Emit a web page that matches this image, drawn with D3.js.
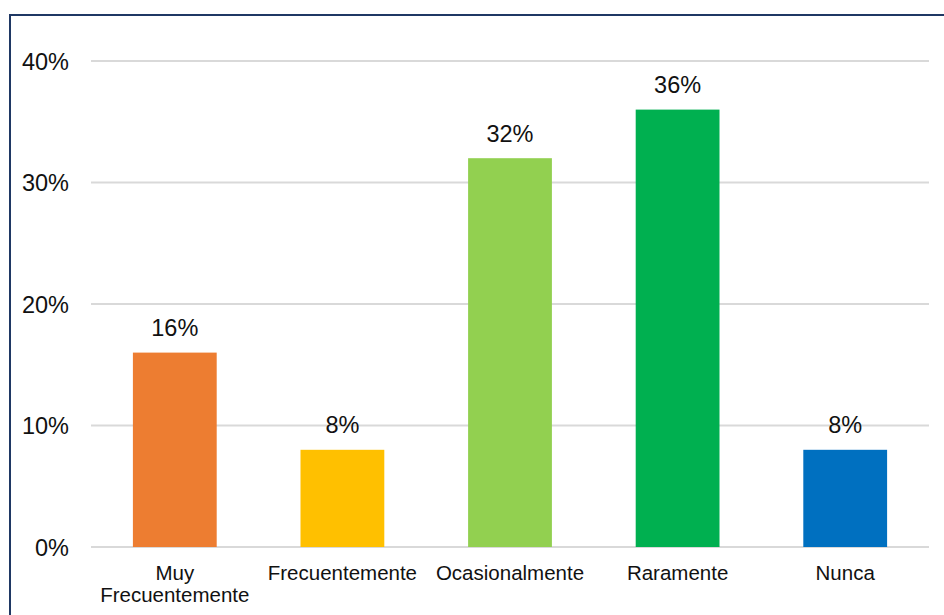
<!DOCTYPE html>
<html>
<head>
<meta charset="utf-8">
<script src="https://cdn.jsdelivr.net/npm/d3@7"></script>
<style>
  html, body { margin: 0; padding: 0; background: #fff; }
  svg { display: block; }
  text { font-family: "Liberation Sans", Arial, sans-serif; fill: #111; }
</style>
</head>
<body>
<svg id="chart" width="944" height="615"></svg>
<script>
// Frequency of response, share of respondents
const categories = [["Muy", "Frecuentemente"], ["Frecuentemente"], ["Ocasionalmente"], ["Raramente"], ["Nunca"]];
const values = [0.16, 0.08, 0.32, 0.36, 0.08];
const colors = ["#ED7D31", "#FFC000", "#92D050", "#00B050", "#0070C0"];
const tickValues = [0, 0.1, 0.2, 0.3, 0.4];

const svg = d3.select("#chart");

// frame around the chart area
svg.append("rect")
  .attr("x", 10).attr("y", 15)
  .attr("width", 960).attr("height", 640)
  .attr("fill", "none")
  .attr("stroke", "#1F3864")
  .attr("stroke-width", 2);

const plot = { left: 91, right: 929, top: 61, bottom: 547 };

const x = d3.scaleBand()
  .domain(d3.range(values.length))
  .range([plot.left, plot.right])
  .paddingInner(0.5)
  .paddingOuter(0.25);

const y = d3.scaleLinear()
  .domain([0, 0.4])
  .range([plot.bottom, plot.top]);

// horizontal gridlines
svg.append("g")
  .selectAll("line")
  .data(tickValues)
  .join("line")
  .attr("x1", plot.left).attr("x2", plot.right)
  .attr("y1", d => y(d)).attr("y2", d => y(d))
  .attr("stroke", "#D9D9D9")
  .attr("stroke-width", 2);

// y axis labels
const yAxis = d3.axisLeft(y)
  .tickValues(tickValues)
  .tickFormat(d3.format(".0%"))
  .tickSize(0)
  .tickPadding(0);
const yg = svg.append("g")
  .attr("transform", `translate(${plot.left - 22},0)`)
  .call(yAxis);
yg.select(".domain").remove();
yg.selectAll("text")
  .attr("font-size", "23.5px")
  .attr("font-family", "Liberation Sans, Arial, sans-serif")
  .attr("fill", "#111")
  .attr("dy", "0.36em");

// bars
svg.append("g")
  .selectAll("rect")
  .data(values)
  .join("rect")
  .attr("x", (d, i) => x(i))
  .attr("width", x.bandwidth())
  .attr("y", d => y(d))
  .attr("height", d => y(0) - y(d))
  .attr("fill", (d, i) => colors[i]);

// value labels
svg.append("g")
  .selectAll("text")
  .data(values)
  .join("text")
  .attr("x", (d, i) => x(i) + x.bandwidth() / 2)
  .attr("y", d => y(d) - 16.5)
  .attr("text-anchor", "middle")
  .attr("font-size", "23.5px")
  .text(d => d3.format(".0%")(d));

// category labels
const cat = svg.append("g")
  .selectAll("text")
  .data(categories)
  .join("text")
  .attr("x", (d, i) => x(i) + x.bandwidth() / 2)
  .attr("y", 580)
  .attr("text-anchor", "middle")
  .attr("font-size", "20.5px");
cat.selectAll("tspan")
  .data(d => d)
  .join("tspan")
  .attr("x", function () { return d3.select(this.parentNode).attr("x"); })
  .attr("dy", (d, i) => i === 0 ? 0 : 22)
  .text(d => d);
</script>
</body>
</html>
